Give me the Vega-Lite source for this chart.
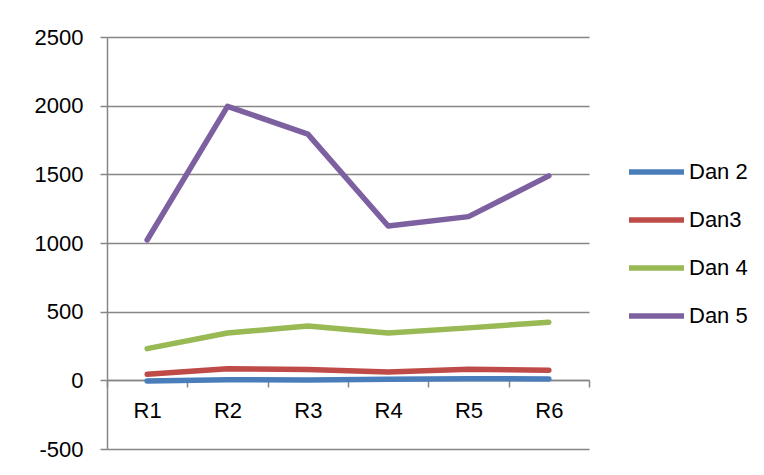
{
  "$schema": "https://vega.github.io/schema/vega-lite/v6.json",
  "autosize": "none",
  "width": 482,
  "height": 412,
  "padding": {"left": 107, "top": 37, "right": 175, "bottom": 26},
  "background": "white",
  "data": {
    "values": [
      {"round": "R1", "series": "Dan 2", "value": -5},
      {"round": "R2", "series": "Dan 2", "value": 5},
      {"round": "R3", "series": "Dan 2", "value": 3},
      {"round": "R4", "series": "Dan 2", "value": 8},
      {"round": "R5", "series": "Dan 2", "value": 12},
      {"round": "R6", "series": "Dan 2", "value": 10},
      {"round": "R1", "series": "Dan3", "value": 44},
      {"round": "R2", "series": "Dan3", "value": 85},
      {"round": "R3", "series": "Dan3", "value": 78},
      {"round": "R4", "series": "Dan3", "value": 61},
      {"round": "R5", "series": "Dan3", "value": 80},
      {"round": "R6", "series": "Dan3", "value": 73},
      {"round": "R1", "series": "Dan 4", "value": 231},
      {"round": "R2", "series": "Dan 4", "value": 345},
      {"round": "R3", "series": "Dan 4", "value": 396},
      {"round": "R4", "series": "Dan 4", "value": 345},
      {"round": "R5", "series": "Dan 4", "value": 382},
      {"round": "R6", "series": "Dan 4", "value": 423},
      {"round": "R1", "series": "Dan 5", "value": 1022},
      {"round": "R2", "series": "Dan 5", "value": 1995},
      {"round": "R3", "series": "Dan 5", "value": 1793},
      {"round": "R4", "series": "Dan 5", "value": 1124},
      {"round": "R5", "series": "Dan 5", "value": 1192},
      {"round": "R6", "series": "Dan 5", "value": 1489}
    ]
  },
  "mark": {"type": "line", "strokeWidth": 5.5, "strokeCap": "round", "strokeJoin": "round"},
  "encoding": {
    "x": {
      "field": "round",
      "type": "nominal",
      "bandPosition": 0.5,
      "scale": {"type": "band", "paddingInner": 0, "paddingOuter": 0},
      "axis": {
        "title": null,
        "labelAngle": 0,
        "offset": -69,
        "tickBand": "extent",
        "tickSize": 7,
        "tickColor": "#868686",
        "tickWidth": 1.5,
        "domainColor": "#868686",
        "domainWidth": 1.5,
        "labelFont": "Liberation Sans",
        "labelFontSize": 22,
        "labelColor": "#000000",
        "labelPadding": 13,
        "grid": false
      }
    },
    "y": {
      "field": "value",
      "type": "quantitative",
      "scale": {"domain": [-500, 2500], "nice": false, "zero": false},
      "axis": {
        "title": null,
        "values": [-500, 0, 500, 1000, 1500, 2000, 2500],
        "labelExpr": "'' + datum.value",
        "grid": true,
        "gridColor": "#868686",
        "gridWidth": 1.5,
        "tickSize": 7,
        "tickColor": "#868686",
        "tickWidth": 1.5,
        "domainColor": "#868686",
        "domainWidth": 1.5,
        "labelFont": "Liberation Sans",
        "labelFontSize": 22,
        "labelColor": "#000000",
        "labelPadding": 17
      }
    },
    "color": {
      "field": "series",
      "type": "nominal",
      "scale": {
        "domain": ["Dan 2", "Dan3", "Dan 4", "Dan 5"],
        "range": ["#4A7EBB", "#BE4B48", "#98B954", "#7D60A0"]
      },
      "legend": {
        "title": null,
        "orient": "none",
        "legendX": 519,
        "legendY": 123,
        "padding": 0,
        "symbolType": "stroke",
        "symbolSize": 3025,
        "symbolStrokeWidth": 5.5,
        "clipHeight": 24,
        "rowPadding": 24,
        "labelOffset": 2,
        "labelFont": "Liberation Sans",
        "labelFontSize": 22,
        "labelColor": "#000000"
      }
    }
  },
  "config": {"view": {"stroke": null}}
}
